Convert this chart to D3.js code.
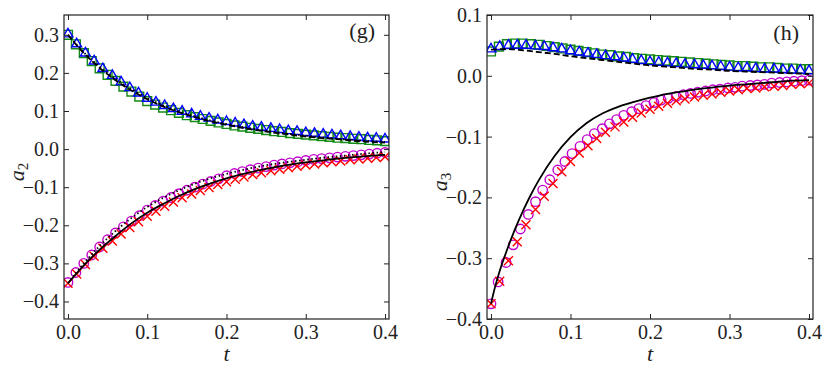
<!DOCTYPE html>
<html>
<head>
<meta charset="utf-8">
<script src="https://cdn.jsdelivr.net/npm/d3@7"></script>
<style>
  body { margin: 0; background: #fff; }
  svg { display: block; }
  text { font-family: "Liberation Serif", "DejaVu Serif", serif; fill: #222; }
</style>
</head>
<body>
<div id="chart"></div>
<script>
// sample times
const tSq = [0, 0.01, 0.02, 0.03, 0.04, 0.05, 0.06, 0.07, 0.08, 0.09, 0.1, 0.11, 0.12, 0.13, 0.14, 0.15, 0.16, 0.17, 0.18, 0.19, 0.2,
  0.21, 0.22, 0.23, 0.24, 0.25, 0.26, 0.27, 0.28, 0.29, 0.3, 0.31, 0.32, 0.33, 0.34, 0.35, 0.36, 0.37, 0.38, 0.39, 0.4];
const tTri = [0, 0.011, 0.022, 0.033, 0.044, 0.056, 0.067, 0.078, 0.089, 0.1, 0.111, 0.122, 0.133, 0.144, 0.156, 0.167, 0.178, 0.189,
  0.2, 0.211, 0.222, 0.233, 0.244, 0.256, 0.267, 0.278, 0.289, 0.3, 0.311, 0.322, 0.333, 0.344, 0.356, 0.367, 0.378, 0.389, 0.4];
const tLine = [0, 0.02, 0.04, 0.06, 0.08, 0.1, 0.12, 0.14, 0.16, 0.18, 0.2, 0.22, 0.24, 0.26, 0.28, 0.3, 0.32, 0.34, 0.36, 0.38, 0.4];
const tCircH = [0, 0.009, 0.019, 0.028, 0.037, 0.047, 0.056, 0.065, 0.074, 0.084, 0.093, 0.102, 0.112, 0.121, 0.13, 0.14, 0.149,
  0.158, 0.167, 0.177, 0.186, 0.195, 0.205, 0.214, 0.223, 0.233, 0.242, 0.251, 0.26, 0.27, 0.279, 0.288, 0.298, 0.307, 0.316,
  0.326, 0.335, 0.344, 0.353, 0.363, 0.372, 0.381, 0.391, 0.4];
const tSolidH = [0, 0.005, 0.01, 0.02, 0.03, 0.04, 0.05, 0.06, 0.08, 0.1, 0.12, 0.14, 0.16, 0.18, 0.2, 0.22, 0.24, 0.26, 0.28, 0.3,
  0.32, 0.34, 0.36, 0.38, 0.4];

// panel (g): a2
const gSquares = [0.300, 0.275, 0.252, 0.231, 0.212, 0.195, 0.179, 0.164, 0.151, 0.138, 0.126, 0.117, 0.109, 0.102, 0.095, 0.089,
  0.084, 0.079, 0.074, 0.070, 0.066, 0.062, 0.059, 0.056, 0.053, 0.050, 0.047, 0.045, 0.042, 0.040, 0.038, 0.036, 0.034, 0.032,
  0.030, 0.029, 0.027, 0.026, 0.024, 0.023, 0.021];
const gTriangles = [0.302, 0.276, 0.252, 0.231, 0.211, 0.193, 0.176, 0.161, 0.147, 0.133, 0.123, 0.114, 0.106, 0.099, 0.092, 0.086,
  0.081, 0.076, 0.072, 0.068, 0.064, 0.060, 0.057, 0.054, 0.051, 0.048, 0.046, 0.043, 0.041, 0.039, 0.037, 0.035, 0.033, 0.031,
  0.029, 0.028, 0.026];
const gCircles = [-0.350, -0.324, -0.300, -0.278, -0.257, -0.238, -0.220, -0.204, -0.189, -0.175, -0.160, -0.148, -0.137, -0.127,
  -0.117, -0.108, -0.100, -0.092, -0.085, -0.078, -0.070, -0.064, -0.059, -0.054, -0.050, -0.046, -0.042, -0.039, -0.036, -0.033,
  -0.030, -0.027, -0.025, -0.023, -0.021, -0.019, -0.017, -0.015, -0.013, -0.011, -0.009];
const gCrosses = [-0.352, -0.328, -0.303, -0.281, -0.260, -0.241, -0.223, -0.206, -0.191, -0.176, -0.163, -0.150, -0.139, -0.128,
  -0.118, -0.109, -0.101, -0.093, -0.086, -0.079, -0.073, -0.067, -0.062, -0.057, -0.053, -0.049, -0.045, -0.042, -0.039, -0.036,
  -0.033, -0.031, -0.028, -0.026, -0.024, -0.022, -0.020];
const gDashUp = [0.300, 0.252, 0.213, 0.181, 0.154, 0.131, 0.112, 0.097, 0.084, 0.073, 0.064, 0.056, 0.049, 0.043, 0.038, 0.033,
  0.029, 0.026, 0.022, 0.019, 0.017];
const gDotUp = [0.300, 0.254, 0.216, 0.184, 0.157, 0.134, 0.115, 0.099, 0.086, 0.075, 0.066, 0.058, 0.051, 0.045, 0.040, 0.035,
  0.031, 0.027, 0.024, 0.021, 0.019];
const gSolidLow = [-0.352, -0.305, -0.264, -0.228, -0.195, -0.167, -0.144, -0.123, -0.105, -0.090, -0.077, -0.066, -0.056, -0.048,
  -0.041, -0.035, -0.030, -0.025, -0.021, -0.018, -0.015];
const gDotLow = [-0.352, -0.300, -0.254, -0.215, -0.181, -0.152, -0.128, -0.108, -0.091, -0.077, -0.065, -0.055, -0.046, -0.039,
  -0.033, -0.028, -0.023, -0.019, -0.015, -0.011, -0.008];

// panel (h): a3
const hSquares = [0.040, 0.048, 0.052, 0.053, 0.053, 0.052, 0.051, 0.049, 0.047, 0.045, 0.043, 0.041, 0.039, 0.037, 0.035, 0.034,
  0.032, 0.031, 0.029, 0.028, 0.027, 0.026, 0.025, 0.024, 0.023, 0.022, 0.021, 0.020, 0.019, 0.018, 0.017, 0.016, 0.016, 0.015,
  0.014, 0.014, 0.013, 0.012, 0.012, 0.011, 0.011];
const hTriangles = [0.044, 0.048, 0.050, 0.050, 0.050, 0.049, 0.048, 0.046, 0.044, 0.041, 0.039, 0.037, 0.035, 0.033, 0.031, 0.029,
  0.027, 0.025, 0.023, 0.022, 0.021, 0.020, 0.019, 0.018, 0.017, 0.016, 0.015, 0.014, 0.013, 0.013, 0.012, 0.011, 0.011, 0.010,
  0.009, 0.009, 0.008];
const hCircles = [-0.375, -0.339, -0.307, -0.278, -0.252, -0.228, -0.207, -0.188, -0.171, -0.155, -0.141, -0.128, -0.116, -0.105,
  -0.095, -0.087, -0.079, -0.072, -0.065, -0.059, -0.054, -0.049, -0.044, -0.040, -0.037, -0.034, -0.031, -0.029, -0.027, -0.025,
  -0.023, -0.022, -0.020, -0.019, -0.017, -0.016, -0.015, -0.014, -0.012, -0.011, -0.010, -0.009, -0.008, -0.007];
const hCrosses = [-0.375, -0.338, -0.304, -0.273, -0.245, -0.220, -0.198, -0.177, -0.158, -0.141, -0.127, -0.115, -0.103, -0.093,
  -0.084, -0.076, -0.068, -0.061, -0.055, -0.050, -0.045, -0.041, -0.038, -0.035, -0.032, -0.030, -0.027, -0.025, -0.023, -0.021,
  -0.020, -0.018, -0.017, -0.016, -0.014, -0.013, -0.012];
const hDashUp = [0.043, 0.044, 0.042, 0.039, 0.036, 0.032, 0.029, 0.026, 0.023, 0.020, 0.017, 0.015, 0.013, 0.011, 0.010, 0.008,
  0.007, 0.006, 0.005, 0.004, 0.003];
const hSolidLow = [-0.375, -0.348, -0.325, -0.287, -0.253, -0.223, -0.196, -0.172, -0.132, -0.101, -0.078, -0.062, -0.051, -0.043,
  -0.036, -0.030, -0.026, -0.022, -0.019, -0.016, -0.014, -0.012, -0.010, -0.008, -0.007];

// tick labels
const xTicks = [0, 0.1, 0.2, 0.3, 0.4];
const gYTicks = [-0.4, -0.3, -0.2, -0.1, 0, 0.1, 0.2, 0.3];
const hYTicks = [-0.4, -0.3, -0.2, -0.1, 0, 0.1];

const w = 830;
const h = 376;
const svg = d3.select('#chart').append('svg')
  .attr('width', w)
  .attr('height', h);

const zip = (ts, vs) => ts.map((t, i) => [t, vs[i]]);

const markers = {
  square: d3.symbol().type(d3.symbolSquare).size(78)(),
  triangle: d3.symbol().type(d3.symbolTriangle).size(42)(),
  circle: d3.symbol().type(d3.symbolCircle).size(70)(),
  cross: 'M-4.5,-4.5L4.5,4.5M-4.5,4.5L4.5,-4.5'
};

function drawPanel(p) {
  const x = d3.scaleLinear().domain([-0.005, 0.405]).range([p.left, p.right]);
  const y = d3.scaleLinear().domain(p.yDomain).range([p.bottom, p.top]);
  const g = svg.append('g');

  g.append('clipPath').attr('id', 'clip-' + p.id)
    .append('rect')
    .attr('x', p.left).attr('y', p.top)
    .attr('width', p.right - p.left).attr('height', p.bottom - p.top);
  const plot = g.append('g').attr('clip-path', `url(#clip-${p.id})`);

  // markers
  p.points.forEach(s => {
    plot.append('g').selectAll('path')
      .data(zip(s.t, s.v))
      .join('path')
      .attr('d', markers[s.shape])
      .attr('transform', d => `translate(${x(d[0])},${y(d[1])})`)
      .attr('fill', 'none')
      .attr('stroke', s.color)
      .attr('stroke-width', 1.4);
  });

  // theory lines
  const line = d3.line().x(d => x(d[0])).y(d => y(d[1])).curve(d3.curveMonotoneX);
  p.lines.forEach(s => {
    plot.append('path')
      .datum(zip(s.t, s.v))
      .attr('d', line)
      .attr('fill', 'none')
      .attr('stroke', '#000')
      .attr('stroke-width', 1.8)
      .attr('stroke-dasharray', s.dash || null);
  });

  // axes, ticks pointing inward on all sides
  const fmt = d3.format('.1f');
  const axes = [
    g.append('g').attr('transform', `translate(0,${p.bottom})`)
      .call(d3.axisBottom(x).tickValues(xTicks).tickSize(-5).tickSizeOuter(0).tickPadding(6).tickFormat(fmt)),
    g.append('g').attr('transform', `translate(0,${p.top})`)
      .call(d3.axisTop(x).tickValues(xTicks).tickSize(-5).tickSizeOuter(0).tickFormat('')),
    g.append('g').attr('transform', `translate(${p.left},0)`)
      .call(d3.axisLeft(y).tickValues(p.yTicks).tickSize(-5).tickSizeOuter(0).tickPadding(5).tickFormat(fmt)),
    g.append('g').attr('transform', `translate(${p.right},0)`)
      .call(d3.axisRight(y).tickValues(p.yTicks).tickSize(-5).tickSizeOuter(0).tickFormat(''))
  ];
  axes.forEach(a => {
    a.select('.domain').remove();
    a.selectAll('line').attr('stroke', '#222').attr('stroke-width', 1);
    a.selectAll('text').attr('font-size', 20).attr('font-family', '"Liberation Serif", serif').attr('fill', '#222');
  });

  // frame
  g.append('rect')
    .attr('x', p.left).attr('y', p.top)
    .attr('width', p.right - p.left).attr('height', p.bottom - p.top)
    .attr('fill', 'none')
    .attr('stroke', '#222')
    .attr('stroke-width', 1.2);

  // axis labels
  g.append('text')
    .attr('x', x(0.2)).attr('y', 361)
    .attr('text-anchor', 'middle')
    .attr('font-size', 22)
    .attr('font-style', 'italic')
    .text('t');
  const yl = g.append('text')
    .attr('transform', `translate(${p.yLabelX},${p.yLabelY}) rotate(-90)`)
    .attr('text-anchor', 'middle')
    .attr('font-size', 22)
    .attr('font-style', 'italic');
  yl.append('tspan').text('a');
  yl.append('tspan').attr('font-size', 15).attr('font-style', 'normal').attr('dy', 4).text(p.sub);

  // panel tag
  g.append('text')
    .attr('x', p.right - 14).attr('y', p.tagY)
    .attr('text-anchor', 'end')
    .attr('font-size', 22)
    .text(p.tag);
}

drawPanel({
  id: 'g', left: 64, right: 389, top: 15, bottom: 319,
  yDomain: [-0.446, 0.352], yTicks: gYTicks,
  yLabelX: 24, yLabelY: 172, sub: '2', tag: '(g)', tagY: 38,
  points: [
    { t: tSq, v: gSquares, shape: 'square', color: '#138a13' },
    { t: tTri, v: gTriangles, shape: 'triangle', color: '#0000ff' },
    { t: tSq, v: gCircles, shape: 'circle', color: '#c000cc' },
    { t: tTri, v: gCrosses, shape: 'cross', color: '#ff0000' }
  ],
  lines: [
    { t: tLine, v: gDotUp, dash: '1.5,2.6' },
    { t: tLine, v: gDashUp, dash: '6,3' },
    { t: tLine, v: gDotLow, dash: '1.5,2.6' },
    { t: tLine, v: gSolidLow }
  ]
});

drawPanel({
  id: 'h', left: 487, right: 813, top: 15, bottom: 319,
  yDomain: [-0.4, 0.1], yTicks: hYTicks,
  yLabelX: 447, yLabelY: 182, sub: '3', tag: '(h)', tagY: 40,
  points: [
    { t: tSq, v: hSquares, shape: 'square', color: '#138a13' },
    { t: tTri, v: hTriangles, shape: 'triangle', color: '#0000ff' },
    { t: tCircH, v: hCircles, shape: 'circle', color: '#c000cc' },
    { t: tTri, v: hCrosses, shape: 'cross', color: '#ff0000' }
  ],
  lines: [
    { t: tLine, v: hDashUp, dash: '6,3' },
    { t: tSolidH, v: hSolidLow }
  ]
});
</script>
</body>
</html>
